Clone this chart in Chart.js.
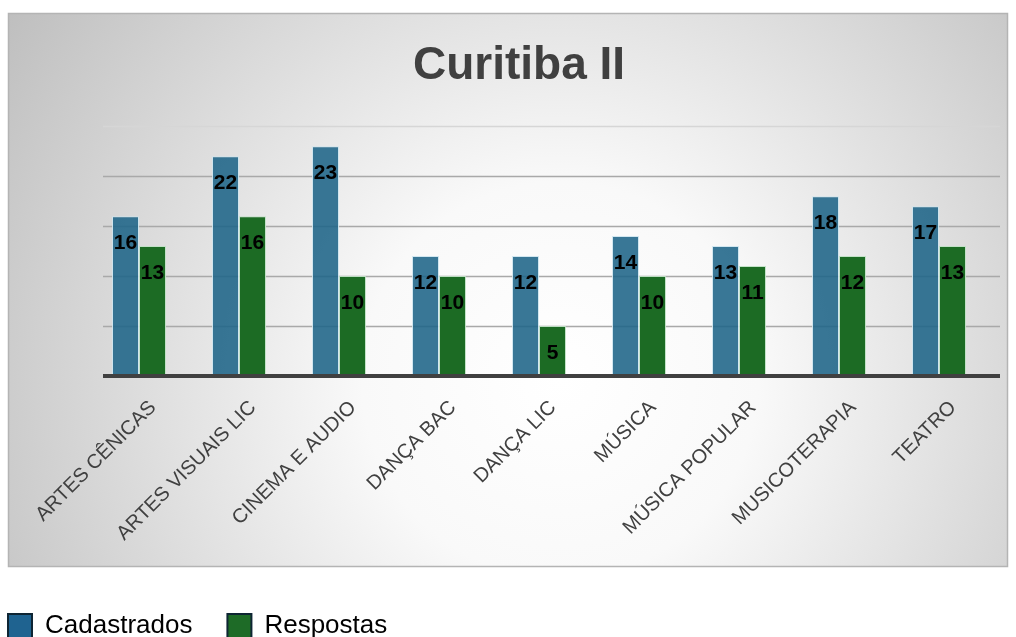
<!DOCTYPE html>
<html>
<head>
<meta charset="utf-8">
<style>
  html, body { margin: 0; padding: 0; background: #ffffff; }
  #wrap { width: 1016px; height: 637px; position: relative; }
</style>
<script src="https://cdn.jsdelivr.net/npm/chart.js@4.4.1/dist/chart.umd.min.js"></script>
</head>
<body>
<div id="wrap"><canvas id="chart" width="1016" height="637"></canvas></div>
<script>
// Courses of the Curitiba II campus
const categories = [
  'ARTES CÊNICAS', 'ARTES VISUAIS LIC', 'CINEMA E AUDIO', 'DANÇA BAC',
  'DANÇA LIC', 'MÚSICA', 'MÚSICA POPULAR', 'MUSICOTERAPIA', 'TEATRO'
];
const cadastrados = [16, 22, 23, 12, 12, 14, 13, 18, 17];
const respostas   = [13, 16, 10, 10, 5, 10, 11, 12, 13];
const gridValues  = [5, 10, 15, 20, 25];

const FONT = '"Liberation Sans", Arial, sans-serif';

// Framed panel with a soft radial gradient behind the plot
const panelBackground = {
  id: 'panelBackground',
  beforeDraw(chart) {
    const ctx = chart.ctx;
    const x0 = 8, y0 = 13, x1 = 1008, y1 = 567;
    ctx.save();
    ctx.fillStyle = '#ffffff';
    ctx.fillRect(0, 0, chart.width, chart.height);
    const g = ctx.createRadialGradient(560, 380, 0, 560, 380, 660);
    g.addColorStop(0, '#ffffff');
    g.addColorStop(0.3, '#f9f9f9');
    g.addColorStop(1, '#bfbfbf');
    ctx.fillStyle = g;
    ctx.fillRect(x0, y0, x1 - x0, y1 - y0);
    ctx.strokeStyle = '#b4b4b4';
    ctx.lineWidth = 1.5;
    ctx.strokeRect(x0 + 0.5, y0 + 0.5, x1 - x0 - 1, y1 - y0 - 1);
    ctx.restore();
  }
};

// Horizontal gridlines and the thick base line, taken from the y scale
const valueGrid = {
  id: 'valueGrid',
  beforeDatasetsDraw(chart) {
    const ctx = chart.ctx, y = chart.scales.y, a = chart.chartArea;
    const left = a.left + 14, right = a.right + 11;
    ctx.save();
    gridValues.forEach(v => {
      const py = Math.round(y.getPixelForValue(v)) + 0.5;
      ctx.strokeStyle = v === 25 ? '#d6d6d6' : '#a9a9a9';
      ctx.lineWidth = 1.5;
      ctx.beginPath();
      ctx.moveTo(left, py);
      ctx.lineTo(right, py);
      ctx.stroke();
    });
    ctx.restore();
  },
  afterDatasetsDraw(chart) {
    const ctx = chart.ctx, y = chart.scales.y, a = chart.chartArea;
    const py = y.getPixelForValue(0);
    ctx.save();
    ctx.strokeStyle = '#404040';
    ctx.lineWidth = 4;
    ctx.beginPath();
    ctx.moveTo(a.left + 14, py);
    ctx.lineTo(a.right + 11, py);
    ctx.stroke();
    ctx.restore();
  }
};

// Value labels placed just inside the top of each bar
const barValues = {
  id: 'barValues',
  afterDatasetsDraw(chart) {
    const ctx = chart.ctx;
    ctx.save();
    ctx.font = 'bold 21px ' + FONT;
    ctx.fillStyle = '#000000';
    ctx.textAlign = 'center';
    ctx.textBaseline = 'middle';
    chart.data.datasets.forEach((ds, di) => {
      chart.getDatasetMeta(di).data.forEach((bar, i) => {
        ctx.fillText(String(ds.data[i]), bar.x, bar.y + 27);
      });
    });
    ctx.restore();
  }
};

const legendColors = [
  { fill: '#1f6390', stroke: '#0e2533' },
  { fill: '#1e6b27', stroke: '#0e2533' }
];

new Chart(document.getElementById('chart'), {
  type: 'bar',
  data: {
    labels: categories,
    datasets: [
      {
        label: 'Cadastrados',
        data: cadastrados,
        backgroundColor: 'rgba(30, 100, 136, 0.88)',
        borderColor: 'rgba(205, 228, 238, 0.9)',
        borderWidth: 1
      },
      {
        label: 'Respostas',
        data: respostas,
        backgroundColor: '#1c6b24',
        borderColor: 'rgba(190, 225, 195, 0.9)',
        borderWidth: 1
      }
    ]
  },
  options: {
    responsive: false,
    animation: false,
    devicePixelRatio: 1,
    layout: { padding: { top: 0, right: -49, bottom: -12, left: -27 } },
    datasets: { bar: { categoryPercentage: 0.54, barPercentage: 1 } },
    scales: {
      x: {
        grid: { display: false },
        border: { display: false },
        ticks: {
          autoSkip: false,
          minRotation: 45,
          maxRotation: 45,
          color: '#404040',
          font: { family: FONT, size: 20 },
          padding: 12,
          labelOffset: 14
        },
        afterFit(scale) { scale.height = 202; }
      },
      y: {
        min: 0,
        max: 25,
        ticks: { display: false, stepSize: 5 },
        grid: { display: false },
        border: { display: false },
        afterFit(scale) { scale.width = 116; }
      },
      yRight: {
        position: 'right',
        display: true,
        ticks: { display: false },
        grid: { display: false },
        border: { display: false },
        afterFit(scale) { scale.width = 76; }
      }
    },
    plugins: {
      title: {
        display: true,
        text: 'Curitiba II',
        color: '#404040',
        font: { family: FONT, size: 46, weight: 'bold' },
        padding: { top: 39, bottom: 32 }
      },
      legend: {
        display: true,
        position: 'bottom',
        align: 'start',
        labels: {
          color: '#000000',
          font: { family: FONT, size: 26 },
          boxWidth: 24,
          boxHeight: 24,
          padding: 35,
          generateLabels(chart) {
            return chart.data.datasets.map((ds, i) => ({
              text: ds.label,
              fillStyle: legendColors[i].fill,
              strokeStyle: legendColors[i].stroke,
              lineWidth: 2,
              fontColor: '#000000',
              datasetIndex: i,
              hidden: false
            }));
          }
        }
      },
      tooltip: { enabled: false }
    }
  },
  plugins: [panelBackground, valueGrid, barValues]
});
</script>
</body>
</html>
